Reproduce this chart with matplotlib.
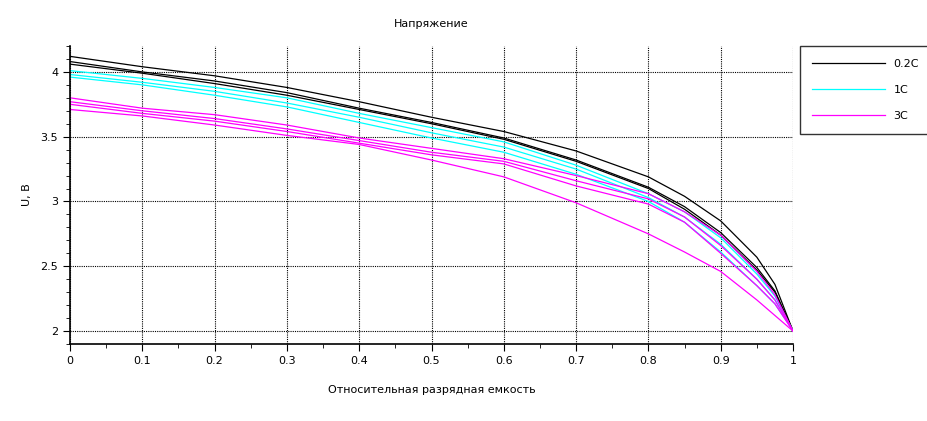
import numpy as np
import matplotlib
matplotlib.use("Agg")
import matplotlib.pyplot as plt
from matplotlib import font_manager
from matplotlib.ticker import MultipleLocator, FuncFormatter

# relative discharge capacity (read points)
x_pts = [0.0, 0.1, 0.2, 0.3, 0.4, 0.5, 0.6, 0.7, 0.8, 0.85, 0.9, 0.95, 0.975, 1.0]

# 0.2C curves
u_02c = [
    [4.12, 4.04, 3.97, 3.88, 3.77, 3.65, 3.54, 3.39, 3.19, 3.04, 2.85, 2.57, 2.36, 2.0],
    [4.08, 4.00, 3.93, 3.84, 3.72, 3.61, 3.49, 3.32, 3.11, 2.96, 2.76, 2.49, 2.31, 2.0],
    [4.06, 3.99, 3.91, 3.82, 3.71, 3.60, 3.48, 3.31, 3.10, 2.94, 2.74, 2.47, 2.30, 2.0],
]
# 1C curves
u_1c = [
    [4.01, 3.95, 3.88, 3.80, 3.68, 3.57, 3.46, 3.28, 3.06, 2.92, 2.72, 2.44, 2.27, 2.0],
    [3.98, 3.92, 3.85, 3.76, 3.65, 3.53, 3.42, 3.25, 3.03, 2.88, 2.67, 2.40, 2.24, 2.0],
    [3.96, 3.90, 3.82, 3.73, 3.61, 3.49, 3.38, 3.21, 3.00, 2.84, 2.61, 2.35, 2.21, 2.0],
]
# 3C curves
u_3c = [
    [3.80, 3.72, 3.67, 3.59, 3.49, 3.41, 3.33, 3.20, 3.06, 2.92, 2.74, 2.46, 2.28, 2.0],
    [3.77, 3.70, 3.64, 3.56, 3.47, 3.38, 3.31, 3.16, 3.02, 2.88, 2.66, 2.40, 2.24, 2.0],
    [3.75, 3.68, 3.62, 3.54, 3.45, 3.36, 3.29, 3.12, 2.98, 2.84, 2.60, 2.35, 2.21, 2.0],
    [3.71, 3.66, 3.59, 3.51, 3.44, 3.32, 3.19, 2.99, 2.75, 2.61, 2.46, 2.24, 2.12, 2.0],
]

labels = ["0.2C", "1C", "3C"]
colors = ["black", "#00ffff", "#ff00ff"]

# narrow font like the original, if available
names = {f.name for f in font_manager.fontManager.ttflist}
fam = "Liberation Sans Narrow" if "Liberation Sans Narrow" in names else "DejaVu Sans"
plt.rcParams["font.family"] = [fam, "DejaVu Sans"]
plt.rcParams["font.size"] = 8

fig = plt.figure(figsize=(9.28, 4.21), dpi=100)
ax = fig.add_axes([70 / 928, 1 - 344 / 421, 723 / 928, 298 / 421])

for group, col, lab in zip([u_02c, u_1c, u_3c], colors, labels):
    for i, u in enumerate(group):
        ax.plot(x_pts, u, color=col, lw=0.9, label=lab if i == 0 else None)

ax.set_xlim(0, 1)
ax.set_ylim(1.9, 4.2)
ax.xaxis.set_major_locator(MultipleLocator(0.1))
ax.xaxis.set_minor_locator(MultipleLocator(0.05))
ax.yaxis.set_major_locator(MultipleLocator(0.5))
ax.yaxis.set_minor_locator(MultipleLocator(0.1))
ax.xaxis.set_major_formatter(FuncFormatter(lambda v, p: f"{v:g}"))
ax.yaxis.set_major_formatter(FuncFormatter(lambda v, p: f"{v:g}"))

ax.grid(True, which="major", color="black", linestyle=(0, (1, 1)), lw=0.8)
ax.spines["top"].set_visible(False)
ax.spines["right"].set_visible(False)
ax.spines["left"].set_linewidth(1.2)
ax.spines["bottom"].set_linewidth(1.2)
ax.tick_params(which="major", length=5, direction="out")
ax.tick_params(which="minor", length=3, direction="out")

ax.set_title("Напряжение", fontsize=8, pad=14)
ax.set_xlabel("Относительная разрядная емкость", fontsize=8, labelpad=14)
ax.set_ylabel("U, B", fontsize=8, labelpad=6)

leg = ax.legend(loc="upper left", bbox_to_anchor=(1.009, 1.0), frameon=True,
                fancybox=False, edgecolor="black", handlelength=6.5,
                borderpad=1.15, labelspacing=1.45, borderaxespad=0, fontsize=8)
leg.get_frame().set_linewidth(1.0)

fig.savefig("out.png", dpi=100)
